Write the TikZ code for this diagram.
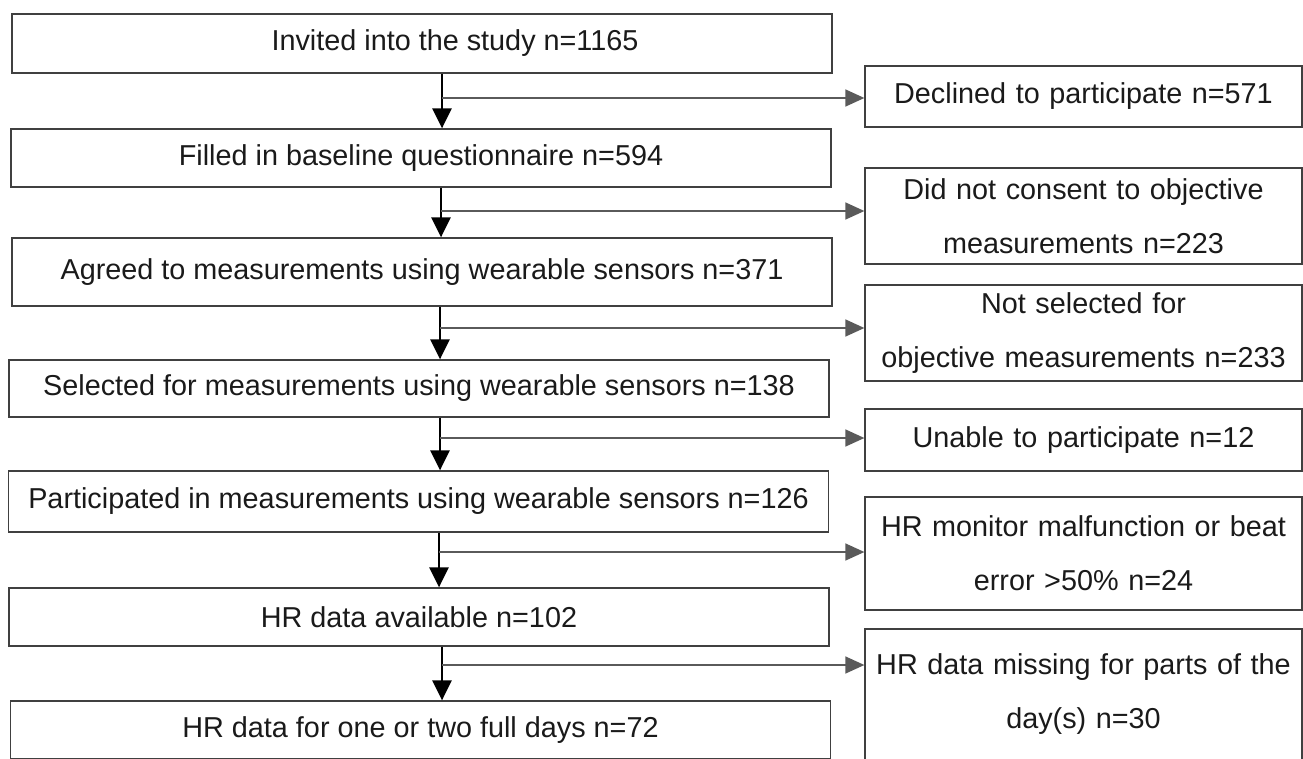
\documentclass[tikz,border=0pt]{standalone}
\usepackage{fontspec}
\setmainfont{Liberation Sans}
\usepackage{tikz}
\usetikzlibrary{positioning, arrows.meta}
\usepackage{xcolor}
\definecolor{boxline}{HTML}{404040}
\definecolor{branchline}{HTML}{5A5A5A}
\definecolor{boxtext}{HTML}{1A1A1A}

\begin{document}
\begin{tikzpicture}[x=1pt, y=-1pt]
                % Styles
                \tikzstyle{stage} = [rectangle, minimum width=820pt, text centered, draw=boxline, line width=1.3pt, text=boxtext, font=\fontsize{28.8pt}{54pt}\selectfont]
                \tikzstyle{excluded} = [rectangle, minimum width=437pt, text width=430pt, align=center, draw=boxline, line width=1.3pt, text=boxtext, font=\fontsize{28.8pt}{54pt}\selectfont]
                \tikzstyle{arrow} = [line width=2.5pt, -{Triangle[length=20pt, width=19pt]}]
                \tikzstyle{branch} = [line width=1.5pt, draw=branchline, -{Triangle[length=19pt, width=17pt]}]

                \clip (0,0) rectangle (1303,758);

                % Nodes
                \node (invited) [stage, minimum height=59pt] at (422,43.5) {\hspace*{66pt}Invited into the study n=1165};
                \node (filled) [stage, minimum height=58pt] at (421,158) {Filled in baseline questionnaire n=594};
                \node (agreed) [stage, minimum height=68pt] at (422,272) {Agreed to measurements using wearable sensors n=371};
                \node (selected) [stage, minimum height=57pt] at (419,388.5) {Selected for measurements using wearable sensors n=138};
                \node (participated) [stage, minimum height=61pt] at (418.5,501.5) {Participated in measurements using wearable sensors n=126};
                \node (available) [stage, minimum height=58pt] at (419,617) {HR data available n=102};
                \node (fulldays) [stage, minimum height=58pt] at (420.5,730) {HR data for one or two full days n=72};

                \node (declined) [excluded, minimum height=61pt] at (1083.5,96.5) {Declined to participate n=571};
                \node (noconsent) [excluded, minimum height=96pt] at (1083.5,216) {Did not consent to objective\\measurements n=223};
                \node (notselected) [excluded, minimum height=96pt] at (1083.5,333) {Not selected for\\objective measurements n=233};
                \node (unable) [excluded, minimum height=62pt] at (1083.5,440) {Unable to participate n=12};
                \node (malfunction) [excluded, minimum height=113pt] at (1083.5,553.5) {HR monitor malfunction or beat\\error >50\% n=24};
                \node (missing) [excluded, minimum height=131pt] at (1083.5,694.5) {HR data missing for parts of the\\day(s) n=30};

                % Branch points
                \coordinate (b1) at (442,98);
                \coordinate (b2) at (441,211);
                \coordinate (b3) at (440,328);
                \coordinate (b4) at (440,438);
                \coordinate (b5) at (439,552);
                \coordinate (b6) at (442,665);

                % Paths
                \draw [arrow] (invited.south -| b1) -- (filled.north -| b1);
                \draw [arrow] (filled.south -| b2) -- (agreed.north -| b2);
                \draw [arrow] (agreed.south -| b3) -- (selected.north -| b3);
                \draw [arrow] (selected.south -| b4) -- (participated.north -| b4);
                \draw [arrow] (participated.south -| b5) -- (available.north -| b5);
                \draw [arrow] (available.south -| b6) -- (fulldays.north -| b6);
                \draw [branch] (b1) -- (declined.west |- b1);
                \draw [branch] (b2) -- (noconsent.west |- b2);
                \draw [branch] (b3) -- (notselected.west |- b3);
                \draw [branch] (b4) -- (unable.west |- b4);
                \draw [branch] (b5) -- (malfunction.west |- b5);
                \draw [branch] (b6) -- (missing.west |- b6);

\end{tikzpicture}
\end{document}
